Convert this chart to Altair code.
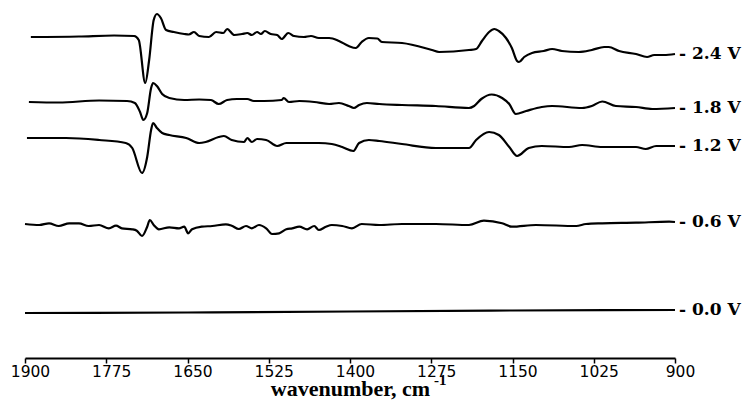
import altair as alt
import pandas as pd

# --- data (relative signal, arbitrary units x0.01) ---
series_labels = ["2.4 V", "1.8 V", "1.2 V", "0.6 V", "0.0 V"]
offsets = [3.21, 2.56, 2.20, 1.34, 0.45]

wn_24 = [1891, 1817, 1763, 1732, 1725, 1715, 1709, 1702, 1697, 1691, 1683, 1671, 1655, 1648, 1640,
         1632, 1617, 1606, 1595, 1589, 1578, 1566, 1558, 1551, 1543, 1537, 1531, 1522, 1512, 1505,
         1495, 1486, 1471, 1460, 1448, 1432, 1417, 1402, 1391, 1382, 1371, 1358, 1351, 1320, 1274,
         1263, 1217, 1206, 1197, 1186, 1178, 1171, 1160, 1151, 1143, 1140, 1132, 1120, 1102, 1089,
         1074, 1048, 1028, 1009, 1002, 986, 960, 943, 932, 917, 900]
sig_24 = [0, 0.5, 1.5, 1, -3, -46, -23, 17, 23, 19, 7, 5, 3, 2.5, 5,
          1, 0, 5, 4, 8, 2, 3, 4, 2, 5, 3, 6, 3, 2, -2,
          4, 1, 0, 1, -1, -1, -4, -9, -11, -5, -1, -1.5, -5, -6, -13,
          -15, -13, -12, -4, 5, 8, 6, -1, -11, -24, -25, -20, -16, -14, -12,
          -14, -15, -13, -10, -10, -14, -17, -20, -18, -18, -17]

wn_18 = [1894, 1848, 1786, 1743, 1731, 1723, 1718, 1712, 1706, 1703, 1697, 1689, 1678, 1655, 1632,
         1614, 1602, 1589, 1574, 1558, 1548, 1532, 1505, 1502, 1494, 1478, 1455, 1432, 1417, 1402,
         1394, 1386, 1374, 1355, 1320, 1268, 1217, 1209, 1198, 1182, 1166, 1155, 1145, 1129, 1105,
         1089, 1043, 1028, 1012, 991, 960, 935, 900]
sig_18 = [0, -0.5, 1.5, 1, -1, -10, -18, -11, 14, 19, 16, 8, 4, 2, 2.5,
          2, -2, 2, 3, 3, 1, 1, 2, 4, 0, 1, 0, -2, -1, -4,
          -6, -3, -1, -2, -3, -4, -6, -4, 3, 7.5, 4, -2, -12, -9, -5,
          -4, -6, -4, 0.5, -4, -5, -7, -6]

wn_12 = [1897, 1837, 1786, 1745, 1735, 1720, 1712, 1706, 1703, 1697, 1689, 1678, 1652, 1632, 1622,
         1602, 1594, 1582, 1563, 1558, 1551, 1543, 1529, 1512, 1498, 1478, 1448, 1428, 1412, 1395,
         1386, 1371, 1355, 1320, 1268, 1217, 1206, 1186, 1171, 1155, 1143, 1125, 1105, 1063, 1043,
         1012, 960, 945, 929, 900]
sig_12 = [0, 0, -2, -5, -10, -35, -19, 8, 15, 10, 5, 3, 0, -5, -4,
          1, 2, -2, -4, 0, -4, -1, -2, -8, -5, -5, -5, -6, -9, -13,
          -5, -2, -3, -6, -10, -10, -2, 6, 3, -9, -18, -10, -8, -9, -7,
          -9, -9, -11, -8, -8]

wn_06 = [1900, 1878, 1863, 1848, 1832, 1817, 1802, 1786, 1771, 1760, 1751, 1735, 1728, 1720, 1712,
         1708, 1702, 1694, 1678, 1663, 1655, 1649, 1643, 1628, 1612, 1591, 1582, 1571, 1560, 1551,
         1540, 1529, 1520, 1509, 1498, 1489, 1478, 1466, 1455, 1448, 1437, 1428, 1412, 1397, 1382,
         1355, 1320, 1268, 1217, 1194, 1166, 1151, 1114, 1052, 1037, 1012, 960, 909, 900]
sig_06 = [0, -1, 0.7, -2, 0.7, 0.7, -2, -1, -4.3, -1.7, -4.3, -5.3, -6.7, -12, -2.7,
          4, -1, -5.3, -3.3, -4.3, -2.7, -9.3, -5.3, -2.7, -2, -0.3, -1.7, -5, -2, -4.3,
          -1, -4.3, -10, -9.3, -5.3, -4.3, -2.7, -5.3, -2, -6, -2.7, -1, -2, -4.3, 0,
          -1, 0, 0, -1, 3.3, 0.7, -2.7, -1, -2, 0, 0.7, 1.3, 2.3, 2]

wn_00 = [1900, 1650, 1400, 1150, 900]
sig_00 = [0, 0.5, 1.5, 2.5, 3]

tick_values = [1900, 1775, 1650, 1525, 1400, 1275, 1150, 1025, 900]

# --- build table ---
all_wn = [wn_24, wn_18, wn_12, wn_06, wn_00]
all_sig = [sig_24, sig_18, sig_12, sig_06, sig_00]
rows = []
lab_rows = []
for lab, off, wns, sigs in zip(series_labels, offsets, all_wn, all_sig):
    for i, (w, s) in enumerate(zip(wns, sigs)):
        rows.append({"series": lab, "wn": w, "y": off + s * 0.01, "order": i})
    lab_rows.append({"series": lab, "wn": wns[-1], "y": off + sigs[-1] * 0.01,
                     "text": "- " + lab})
df = pd.DataFrame(rows)
df_lab = pd.DataFrame(lab_rows)

x_scale = alt.Scale(domain=[1900, 900], nice=False, zero=False)
y_scale = alt.Scale(domain=[0, 3.5], nice=False, zero=False)

lines = alt.Chart(df).mark_line(
    color="black", strokeWidth=2.2, interpolate="monotone"
).encode(
    x=alt.X("wn:Q", scale=x_scale,
            axis=alt.Axis(values=tick_values, format="d", grid=False,
                          domainColor="black", domainWidth=2,
                          tickColor="black", tickWidth=1.5, tickSize=5,
                          labelFont="DejaVu Sans", labelFontSize=15.5, labelColor="black",
                          labelPadding=1, labelOffset=5, labelFlush=False,
                          labelOverlap=False,
                          title="wavenumber, cm", titleFont="Liberation Serif",
                          titleFontWeight="bold", titleFontSize=22, titleColor="black",
                          titleBaseline="alphabetic", titleY=37.5)),
    y=alt.Y("y:Q", scale=y_scale, axis=None),
    detail="series:N",
    order="order:Q",
)

labels = alt.Chart(df_lab).mark_text(
    align="left", baseline="middle", dx=4, font="DejaVu Serif",
    fontWeight="bold", fontSize=17, color="black"
).encode(
    x=alt.X("wn:Q", scale=x_scale),
    y=alt.Y("y:Q", scale=y_scale),
    text="text:N",
)

sup = alt.Chart(pd.DataFrame({"t": ["-1"]})).mark_text(
    align="left", baseline="alphabetic", font="Liberation Serif",
    fontWeight="bold", fontSize=15, color="black"
).encode(
    x=alt.value(409), y=alt.value(377), text="t:N"
)

chart = alt.layer(lines, labels, sup).properties(
    width=650, height=350,
    padding={"left": 17, "top": 0, "right": 68, "bottom": 42},
    autosize=alt.AutoSizeParams(type="none"),
    background="white",
).configure_view(stroke=None)

chart.save("out.html", embed_options={"renderer": "svg", "actions": False})
